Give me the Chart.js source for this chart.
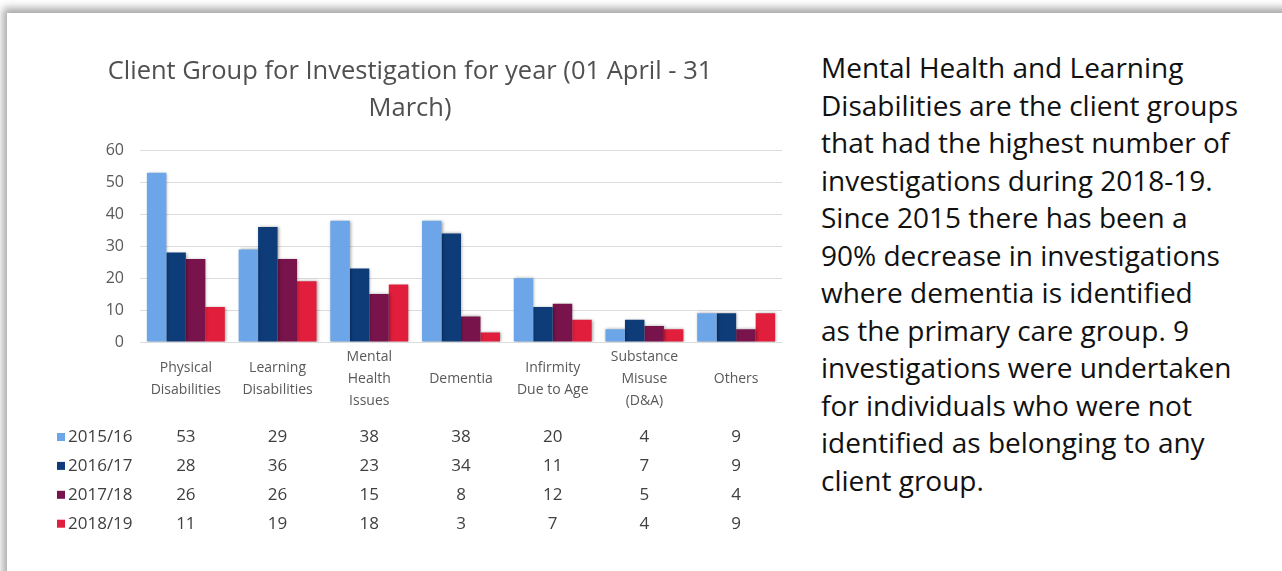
<!DOCTYPE html>
<html>
<head>
<meta charset="utf-8">
<title>Client Group for Investigation</title>
<script src="https://cdn.jsdelivr.net/npm/chart.js@4.4.1/dist/chart.umd.min.js"></script>
<style>
  html, body { margin: 0; padding: 0; background: #fff; width: 1282px; height: 571px; overflow: hidden; }
  .frame { position: absolute; left: 7px; top: 13px; width: 1320px; height: 620px; background: #fff;
           box-shadow: -3px -4px 8px 1px rgba(0, 0, 0, 0.35); }
  .chart-box { position: absolute; left: 20px; top: 40px; width: 780px; height: 510px; }
  .note { position: absolute; left: 821px; top: 49px; font-family: "Open Sans", sans-serif; font-size: 28px;
          line-height: 37.5px; color: #111; white-space: nowrap; }
</style>
</head>
<body>
<div class="frame"></div>
<div class="chart-box"><canvas id="chart"></canvas></div>
<div class="note">
  Mental Health and Learning<br>
  Disabilities are the client groups<br>
  that had the highest number of<br>
  investigations during 2018-19.<br>
  Since 2015 there has been a<br>
  90% decrease in investigations<br>
  where dementia is identified<br>
  as the primary care group. 9<br>
  investigations were undertaken<br>
  for individuals who were not<br>
  identified as belonging to any<br>
  client group.
</div>

<script>
// data
const categories = [
  ["Physical", "Disabilities"],
  ["Learning", "Disabilities"],
  ["Mental", "Health", "Issues"],
  ["Dementia"],
  ["Infirmity", "Due to Age"],
  ["Substance", "Misuse", "(D&A)"],
  ["Others"]
];
const years = ["2015/16", "2016/17", "2017/18", "2018/19"];
const v2015 = [53, 29, 38, 38, 20, 4, 9];
const v2016 = [28, 36, 23, 34, 11, 7, 9];
const v2017 = [26, 26, 15, 8, 12, 5, 4];
const v2018 = [11, 19, 18, 3, 7, 4, 9];
const yTicks = [0, 10, 20, 30, 40, 50, 60];

const colors = ["#6ca6e8", "#0e3c78", "#78144b", "#e11e3c"];
const series = [v2015, v2016, v2017, v2018];

// soft shadow on the bars, like the Excel original
const barShadow = {
  id: "barShadow",
  beforeDatasetsDraw(chart) {
    const c = chart.ctx;
    c.save();
    c.shadowColor = "rgba(0,0,0,0.35)";
    c.shadowBlur = 3;
    c.shadowOffsetX = 1;
    c.shadowOffsetY = 0;
  },
  afterDatasetsDraw(chart) {
    chart.ctx.restore();
  }
};

// draws the category names and the data table under the plot
const tablePlugin = {
  id: "dataTable",
  afterDraw(chart) {
    const { ctx, chartArea, scales: { x } } = chart;
    ctx.save();
    ctx.textBaseline = "middle";
    ctx.textAlign = "center";
    ctx.fillStyle = "#595959";
    ctx.font = '14px "Open Sans"';
    const lh = 22;
    chart.data.labels.forEach((lab, i) => {
      const cx = x.getPixelForValue(i);
      const lines = Array.isArray(lab) ? lab : [lab];
      const mid = chartArea.bottom + 37;
      lines.forEach((t, j) => ctx.fillText(t, cx, mid + (j - (lines.length - 1) / 2) * lh));
    });

    ctx.font = '17px "Open Sans"';
    chart.data.datasets.forEach((ds, r) => {
      const y = chartArea.bottom + 95 + r * 28.9;
      ctx.fillStyle = ds.backgroundColor;
      ctx.fillRect(37, y - 4, 8, 8);
      ctx.textAlign = "left";
      ctx.fillStyle = "#404040";
      ctx.fillText(ds.label, 48, y);
      ctx.textAlign = "center";
      ds.data.forEach((v, i) => ctx.fillText(String(v), x.getPixelForValue(i), y));
    });
    ctx.restore();
  }
};

const ctx = document.getElementById("chart").getContext("2d");
new Chart(ctx, {
  type: "bar",
  data: {
    labels: categories,
    datasets: years.map((y, i) => ({
      label: y,
      data: series[i],
      backgroundColor: colors[i],
      borderWidth: 0,
      categoryPercentage: 0.85,
      barPercentage: 1.0
    }))
  },
  options: {
    responsive: true,
    maintainAspectRatio: false,
    animation: false,
    layout: { padding: { left: 18, right: 18, top: 0, bottom: 0 } },
    plugins: {
      legend: { display: false },
      tooltip: { enabled: false },
      title: {
        display: true,
        text: ["Client Group for Investigation for year (01 April - 31", "March)"],
        color: "#505050",
        font: { family: "Open Sans", size: 25.5, weight: "normal", lineHeight: 1.42 },
        padding: { top: 14, bottom: 24 }
      }
    },
    scales: {
      x: {
        grid: { display: false },
        border: { display: false },
        ticks: { display: false },
        afterFit: (s) => { s.height = 208; }
      },
      y: {
        min: 0,
        max: 60,
        afterBuildTicks: (s) => { s.ticks = yTicks.map(v => ({ value: v })); },
        ticks: { color: "#595959", font: { family: "Open Sans", size: 16 }, padding: 16 },
        grid: { color: "#dcdcdc", drawTicks: false },
        border: { display: false },
        afterFit: (s) => { s.width = 102; }
      }
    }
  },
  plugins: [barShadow, tablePlugin]
});
</script>
</body>
</html>
